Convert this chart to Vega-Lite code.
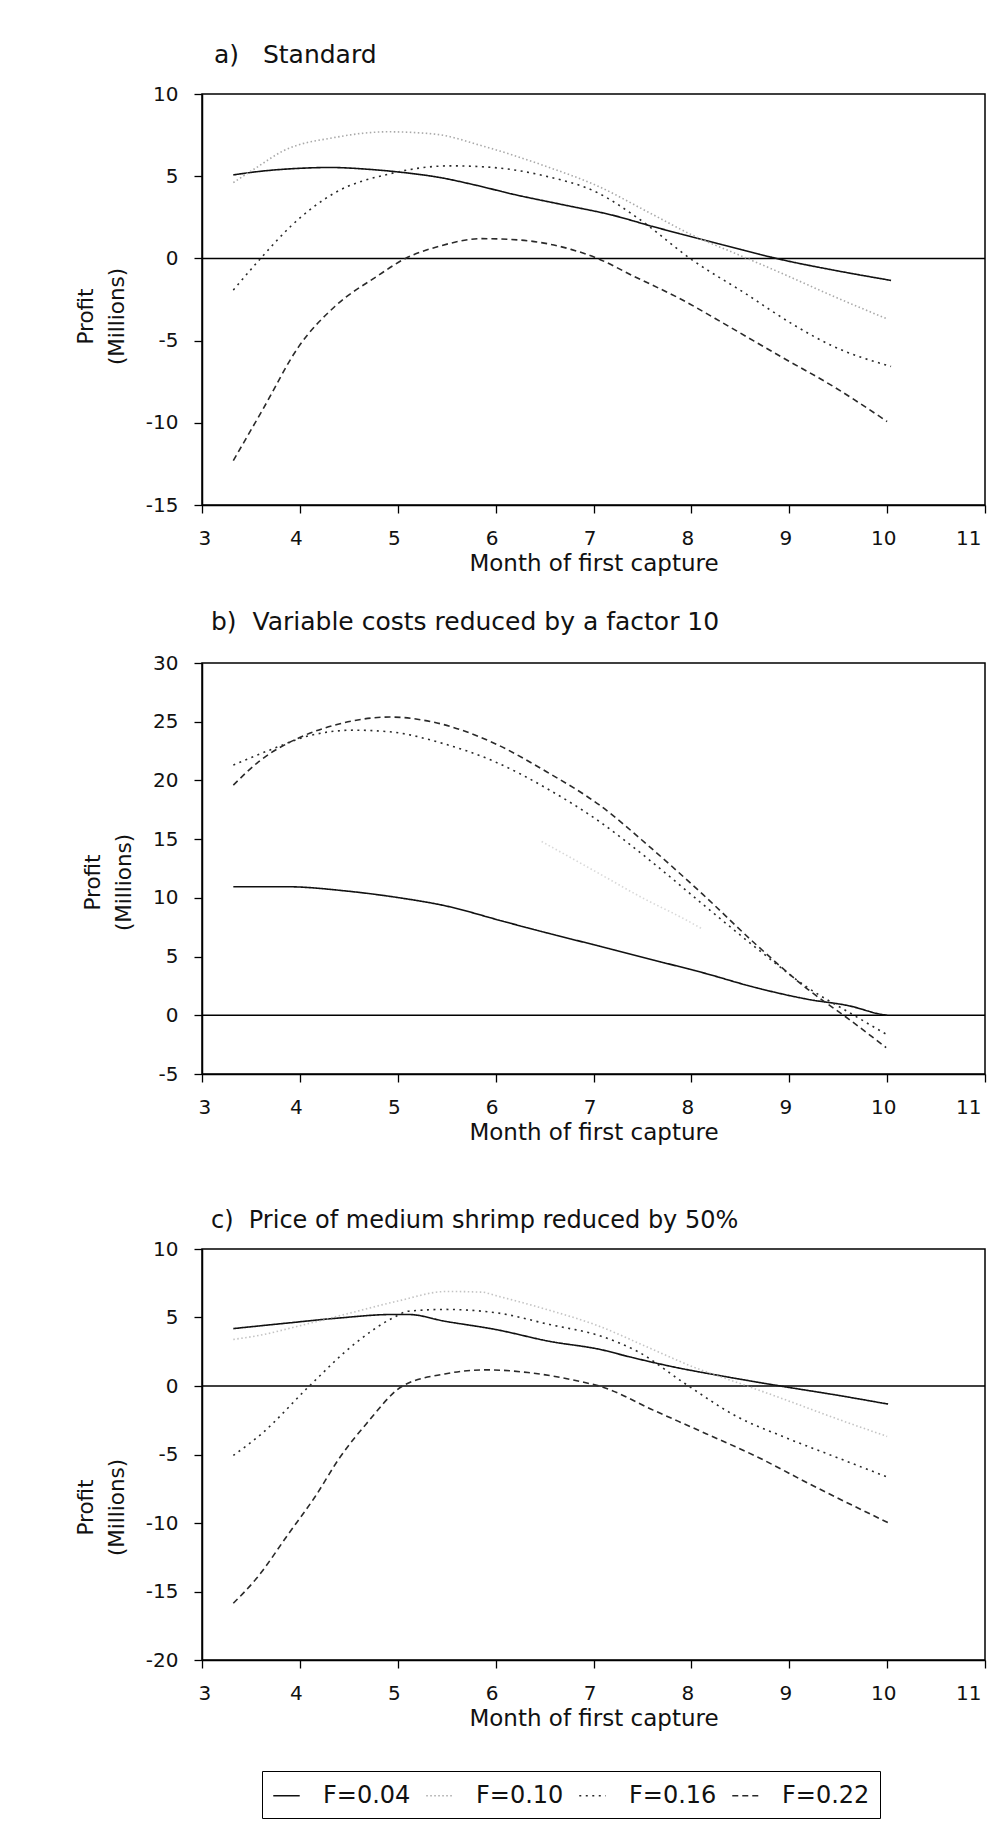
{
  "$schema": "https://vega.github.io/schema/vega-lite/v6.json",
  "padding": {"left": 74, "top": 42, "right": 5, "bottom": 5},
  "background": "white",
  "config": {
    "font": "DejaVu Sans",
    "view": {"stroke": "black", "strokeWidth": 1.5},
    "axis": {"domainColor": "black", "domainWidth": 1.5, "tickColor": "black", "tickWidth": 1.3, "tickSize": 8, "labelColor": "#111", "labelFontSize": 20, "labelFont": "DejaVu Sans", "titleFont": "DejaVu Sans", "titleFontWeight": "normal", "titleColor": "#111", "titleFontSize": 23, "grid": false},
    "axisX": {"labelPadding": 15, "titlePadding": 4, "labelOffset": -4},
    "axisY": {"labelPadding": 16, "titlePadding": 17, "titleFontSize": 21.5, "titleLineHeight": 31},
    "title": {"fontSize": 25, "fontWeight": "normal", "anchor": "start", "frame": "group", "color": "#111", "font": "DejaVu Sans"},
    "legend": {"orient": "none", "legendX": 60, "legendY": 1677, "direction": "horizontal", "strokeColor": "black", "padding": 10, "symbolType": "stroke", "symbolSize": 700, "symbolStrokeWidth": 1.6, "labelFontSize": 24, "labelColor": "#111", "labelOffset": 22, "columnPadding": 12, "columns": 4}
  },
  "data": {"values": [
    {"p":"a","F":"F=0.04","m":3.32,"v":5.08},{"p":"a","F":"F=0.04","m":3.6,"v":5.3},{"p":"a","F":"F=0.04","m":4.0,"v":5.48},{"p":"a","F":"F=0.04","m":4.31,"v":5.53},{"p":"a","F":"F=0.04","m":4.7,"v":5.42},{"p":"a","F":"F=0.04","m":5.0,"v":5.26},{"p":"a","F":"F=0.04","m":5.43,"v":4.92},{"p":"a","F":"F=0.04","m":5.8,"v":4.45},{"p":"a","F":"F=0.04","m":6.18,"v":3.9},{"p":"a","F":"F=0.04","m":6.7,"v":3.25},{"p":"a","F":"F=0.04","m":7.2,"v":2.62},{"p":"a","F":"F=0.04","m":7.6,"v":1.95},{"p":"a","F":"F=0.04","m":8.1,"v":1.16},{"p":"a","F":"F=0.04","m":8.5,"v":0.55},{"p":"a","F":"F=0.04","m":8.91,"v":-0.06},{"p":"a","F":"F=0.04","m":9.45,"v":-0.71},{"p":"a","F":"F=0.04","m":10.04,"v":-1.34},
    {"p":"a","F":"F=0.10","m":3.32,"v":4.61},{"p":"a","F":"F=0.10","m":3.55,"v":5.5},{"p":"a","F":"F=0.10","m":3.83,"v":6.54},{"p":"a","F":"F=0.10","m":4.36,"v":7.36},{"p":"a","F":"F=0.10","m":4.9,"v":7.7},{"p":"a","F":"F=0.10","m":5.38,"v":7.56},{"p":"a","F":"F=0.10","m":5.86,"v":6.85},{"p":"a","F":"F=0.10","m":6.5,"v":5.63},{"p":"a","F":"F=0.10","m":7.04,"v":4.41},{"p":"a","F":"F=0.10","m":7.57,"v":2.78},{"p":"a","F":"F=0.10","m":8.03,"v":1.36},{"p":"a","F":"F=0.10","m":8.43,"v":0.35},{"p":"a","F":"F=0.10","m":8.91,"v":-0.87},{"p":"a","F":"F=0.10","m":9.45,"v":-2.3},{"p":"a","F":"F=0.10","m":10.0,"v":-3.68},
    {"p":"a","F":"F=0.16","m":3.32,"v":-1.93},{"p":"a","F":"F=0.16","m":3.62,"v":0.14},{"p":"a","F":"F=0.16","m":3.91,"v":1.97},{"p":"a","F":"F=0.16","m":4.36,"v":4.0},{"p":"a","F":"F=0.16","m":4.9,"v":5.12},{"p":"a","F":"F=0.16","m":5.54,"v":5.63},{"p":"a","F":"F=0.16","m":5.97,"v":5.53},{"p":"a","F":"F=0.16","m":6.5,"v":5.02},{"p":"a","F":"F=0.16","m":7.04,"v":4.0},{"p":"a","F":"F=0.16","m":7.47,"v":2.38},{"p":"a","F":"F=0.16","m":8.0,"v":-0.06},{"p":"a","F":"F=0.16","m":8.54,"v":-2.09},{"p":"a","F":"F=0.16","m":9.07,"v":-4.13},{"p":"a","F":"F=0.16","m":9.45,"v":-5.35},{"p":"a","F":"F=0.16","m":10.04,"v":-6.57},
    {"p":"a","F":"F=0.22","m":3.32,"v":-12.3},{"p":"a","F":"F=0.22","m":3.62,"v":-9.2},{"p":"a","F":"F=0.22","m":3.99,"v":-5.35},{"p":"a","F":"F=0.22","m":4.36,"v":-2.91},{"p":"a","F":"F=0.22","m":4.79,"v":-1.08},{"p":"a","F":"F=0.22","m":5.06,"v":-0.06},{"p":"a","F":"F=0.22","m":5.43,"v":0.75},{"p":"a","F":"F=0.22","m":5.86,"v":1.2},{"p":"a","F":"F=0.22","m":6.24,"v":1.12},{"p":"a","F":"F=0.22","m":6.77,"v":0.55},{"p":"a","F":"F=0.22","m":7.04,"v":0.0},{"p":"a","F":"F=0.22","m":7.41,"v":-1.08},{"p":"a","F":"F=0.22","m":7.9,"v":-2.5},{"p":"a","F":"F=0.22","m":8.38,"v":-4.13},{"p":"a","F":"F=0.22","m":8.91,"v":-5.96},{"p":"a","F":"F=0.22","m":9.45,"v":-7.79},{"p":"a","F":"F=0.22","m":10.0,"v":-9.92},
    {"p":"b","F":"F=0.04","m":3.32,"v":10.95},{"p":"b","F":"F=0.04","m":3.85,"v":10.95},{"p":"b","F":"F=0.04","m":4.5,"v":10.56},{"p":"b","F":"F=0.04","m":5.03,"v":9.99},{"p":"b","F":"F=0.04","m":5.46,"v":9.37},{"p":"b","F":"F=0.04","m":6.1,"v":7.95},{"p":"b","F":"F=0.04","m":6.52,"v":7.02},{"p":"b","F":"F=0.04","m":7.06,"v":5.89},{"p":"b","F":"F=0.04","m":7.59,"v":4.75},{"p":"b","F":"F=0.04","m":8.12,"v":3.62},{"p":"b","F":"F=0.04","m":8.66,"v":2.35},{"p":"b","F":"F=0.04","m":9.19,"v":1.36},{"p":"b","F":"F=0.04","m":9.62,"v":0.79},{"p":"b","F":"F=0.04","m":9.94,"v":0.08},{"p":"b","F":"F=0.04","m":10.0,"v":0.0},
    {"p":"b","F":"F=0.10","m":6.47,"v":14.8},{"p":"b","F":"F=0.10","m":7.03,"v":12.2},{"p":"b","F":"F=0.10","m":7.5,"v":10.0},{"p":"b","F":"F=0.10","m":7.95,"v":8.1},{"p":"b","F":"F=0.10","m":8.1,"v":7.4},
    {"p":"b","F":"F=0.16","m":3.32,"v":21.31},{"p":"b","F":"F=0.16","m":3.69,"v":22.58},{"p":"b","F":"F=0.16","m":4.12,"v":23.86},{"p":"b","F":"F=0.16","m":4.55,"v":24.28},{"p":"b","F":"F=0.16","m":4.92,"v":24.14},{"p":"b","F":"F=0.16","m":5.46,"v":23.15},{"p":"b","F":"F=0.16","m":5.99,"v":21.6},{"p":"b","F":"F=0.16","m":6.52,"v":19.33},{"p":"b","F":"F=0.16","m":7.06,"v":16.5},{"p":"b","F":"F=0.16","m":7.59,"v":13.1},{"p":"b","F":"F=0.16","m":8.12,"v":9.43},{"p":"b","F":"F=0.16","m":8.66,"v":5.75},{"p":"b","F":"F=0.16","m":9.19,"v":2.35},{"p":"b","F":"F=0.16","m":9.62,"v":0.2},{"p":"b","F":"F=0.16","m":9.99,"v":-1.61},
    {"p":"b","F":"F=0.22","m":3.32,"v":19.6},{"p":"b","F":"F=0.22","m":3.58,"v":21.6},{"p":"b","F":"F=0.22","m":4.01,"v":23.7},{"p":"b","F":"F=0.22","m":4.38,"v":24.76},{"p":"b","F":"F=0.22","m":4.92,"v":25.4},{"p":"b","F":"F=0.22","m":5.35,"v":24.99},{"p":"b","F":"F=0.22","m":5.99,"v":23.15},{"p":"b","F":"F=0.22","m":6.52,"v":20.74},{"p":"b","F":"F=0.22","m":7.06,"v":17.91},{"p":"b","F":"F=0.22","m":7.59,"v":14.23},{"p":"b","F":"F=0.22","m":8.12,"v":10.27},{"p":"b","F":"F=0.22","m":8.66,"v":6.03},{"p":"b","F":"F=0.22","m":9.19,"v":2.21},{"p":"b","F":"F=0.22","m":9.62,"v":-0.4},{"p":"b","F":"F=0.22","m":9.99,"v":-2.75},
    {"p":"c","F":"F=0.04","m":3.32,"v":4.19},{"p":"c","F":"F=0.04","m":3.88,"v":4.6},{"p":"c","F":"F=0.04","m":4.41,"v":4.97},{"p":"c","F":"F=0.04","m":4.95,"v":5.22},{"p":"c","F":"F=0.04","m":5.11,"v":5.22},{"p":"c","F":"F=0.04","m":5.48,"v":4.73},{"p":"c","F":"F=0.04","m":6.01,"v":4.11},{"p":"c","F":"F=0.04","m":6.55,"v":3.26},{"p":"c","F":"F=0.04","m":7.08,"v":2.65},{"p":"c","F":"F=0.04","m":7.35,"v":2.16},{"p":"c","F":"F=0.04","m":7.88,"v":1.3},{"p":"c","F":"F=0.04","m":8.25,"v":0.81},{"p":"c","F":"F=0.04","m":8.95,"v":-0.05},{"p":"c","F":"F=0.04","m":9.48,"v":-0.66},{"p":"c","F":"F=0.04","m":10.01,"v":-1.32},
    {"p":"c","F":"F=0.10","m":3.32,"v":3.4},{"p":"c","F":"F=0.10","m":3.59,"v":3.7},{"p":"c","F":"F=0.10","m":4.0,"v":4.4},{"p":"c","F":"F=0.10","m":4.5,"v":5.3},{"p":"c","F":"F=0.10","m":5.0,"v":6.2},{"p":"c","F":"F=0.10","m":5.5,"v":6.9},{"p":"c","F":"F=0.10","m":5.86,"v":6.85},{"p":"c","F":"F=0.10","m":6.0,"v":6.6},{"p":"c","F":"F=0.10","m":6.5,"v":5.63},{"p":"c","F":"F=0.10","m":7.04,"v":4.41},{"p":"c","F":"F=0.10","m":7.57,"v":2.78},{"p":"c","F":"F=0.10","m":8.03,"v":1.36},{"p":"c","F":"F=0.10","m":8.43,"v":0.35},{"p":"c","F":"F=0.10","m":8.91,"v":-0.87},{"p":"c","F":"F=0.10","m":9.45,"v":-2.3},{"p":"c","F":"F=0.10","m":10.0,"v":-3.68},
    {"p":"c","F":"F=0.16","m":3.32,"v":-5.07},{"p":"c","F":"F=0.16","m":3.61,"v":-3.48},{"p":"c","F":"F=0.16","m":4.09,"v":-0.05},{"p":"c","F":"F=0.16","m":4.57,"v":3.14},{"p":"c","F":"F=0.16","m":4.95,"v":4.97},{"p":"c","F":"F=0.16","m":5.11,"v":5.46},{"p":"c","F":"F=0.16","m":5.48,"v":5.59},{"p":"c","F":"F=0.16","m":6.01,"v":5.34},{"p":"c","F":"F=0.16","m":6.55,"v":4.49},{"p":"c","F":"F=0.16","m":7.08,"v":3.63},{"p":"c","F":"F=0.16","m":7.45,"v":2.52},{"p":"c","F":"F=0.16","m":7.93,"v":0.2},{"p":"c","F":"F=0.16","m":8.47,"v":-2.25},{"p":"c","F":"F=0.16","m":8.95,"v":-3.73},{"p":"c","F":"F=0.16","m":9.48,"v":-5.2},{"p":"c","F":"F=0.16","m":10.01,"v":-6.67},
    {"p":"c","F":"F=0.22","m":3.32,"v":-15.86},{"p":"c","F":"F=0.22","m":3.56,"v":-14.02},{"p":"c","F":"F=0.22","m":3.88,"v":-10.83},{"p":"c","F":"F=0.22","m":4.15,"v":-8.14},{"p":"c","F":"F=0.22","m":4.41,"v":-5.2},{"p":"c","F":"F=0.22","m":4.68,"v":-2.75},{"p":"c","F":"F=0.22","m":5.05,"v":0.0},{"p":"c","F":"F=0.22","m":5.48,"v":0.88},{"p":"c","F":"F=0.22","m":5.91,"v":1.18},{"p":"c","F":"F=0.22","m":6.33,"v":0.98},{"p":"c","F":"F=0.22","m":6.87,"v":0.32},{"p":"c","F":"F=0.22","m":7.08,"v":-0.05},{"p":"c","F":"F=0.22","m":7.61,"v":-1.76},{"p":"c","F":"F=0.22","m":8.15,"v":-3.48},{"p":"c","F":"F=0.22","m":8.68,"v":-5.2},{"p":"c","F":"F=0.22","m":9.21,"v":-7.16},{"p":"c","F":"F=0.22","m":10.01,"v":-9.98}
  ]},
  "spacing": 63,
  "vconcat": [
    {
      "bounds": "flush",
      "spacing": 158,
      "vconcat": [
        {
          "title": {"text": "a)\u00a0\u00a0\u00a0Standard", "dx": 12, "offset": 16},
          "width": 783, "height": 411,
          "layer": [
            {"data": {"values": [{"v": 0}]}, "mark": {"type": "rule", "color": "black", "strokeWidth": 1.5}, "encoding": {"y": {"field": "v", "type": "quantitative", "scale": {"domain": [-15, 10], "nice": false, "zero": false}}}},
            {
              "transform": [{"filter": "datum.p == 'a'"}],
              "mark": {"type": "line", "interpolate": "monotone", "strokeWidth": 1.6},
              "encoding": {
                "x": {"field": "m", "type": "quantitative", "scale": {"domain": [3, 11], "nice": false, "zero": false}, "axis": {"values": [3,4,5,6,7,8,9,10,11], "title": "Month of first capture"}},
                "y": {"field": "v", "type": "quantitative", "scale": {"domain": [-15, 10], "nice": false, "zero": false}, "axis": {"values": [-15,-10,-5,0,5,10], "labelExpr": "'' + datum.value", "title": ["Profit", "(Millions)"], "titleY": 222}},
                "color": {"field": "F", "type": "nominal", "title": null, "scale": {"domain": ["F=0.04","F=0.10","F=0.16","F=0.22"], "range": ["#111111","#a9a9a9","#2a2a2a","#2a2a2a"]}},
                "strokeDash": {"field": "F", "type": "nominal", "title": null, "scale": {"domain": ["F=0.04","F=0.10","F=0.16","F=0.22"], "range": [[1,0],[1.5,2.5],[2,4.5],[6,4]]}}
              }
            }
          ]
        },
        {
          "title": {"text": "b)\u00a0\u00a0Variable costs reduced by a factor 10", "dx": 9, "offset": 18},
          "width": 783, "height": 411,
          "layer": [
            {"data": {"values": [{"v": 0}]}, "mark": {"type": "rule", "color": "black", "strokeWidth": 1.5}, "encoding": {"y": {"field": "v", "type": "quantitative", "scale": {"domain": [-5, 30], "nice": false, "zero": false}}}},
            {
              "transform": [{"filter": "datum.p == 'b'"}],
              "mark": {"type": "line", "interpolate": "monotone", "strokeWidth": 1.6},
              "encoding": {
                "x": {"field": "m", "type": "quantitative", "scale": {"domain": [3, 11], "nice": false, "zero": false}, "axis": {"values": [3,4,5,6,7,8,9,10,11], "title": "Month of first capture"}},
                "y": {"field": "v", "type": "quantitative", "scale": {"domain": [-5, 30], "nice": false, "zero": false}, "axis": {"values": [-5,0,5,10,15,20,25,30], "labelExpr": "'' + datum.value", "title": ["Profit", "(Millions)"], "titleY": 219}},
                "color": {"field": "F", "type": "nominal", "title": null, "scale": {"domain": ["F=0.04","F=0.10","F=0.16","F=0.22"], "range": ["#111111","#a9a9a9","#2a2a2a","#2a2a2a"]}},
                "strokeDash": {"field": "F", "type": "nominal", "title": null, "scale": {"domain": ["F=0.04","F=0.10","F=0.16","F=0.22"], "range": [[1,0],[1.5,2.5],[2,4.5],[6,4]]}},
                "opacity": {"condition": {"test": "datum.F == 'F=0.10'", "value": 0.45}, "value": 1}
              }
            }
          ]
        }
      ]
    },
    {
      "title": {"text": "c)\u00a0\u00a0Price of medium shrimp reduced by 50%", "dx": 9, "offset": 6, "fontSize": 24},
      "width": 783, "height": 411,
      "layer": [
        {"data": {"values": [{"v": 0}]}, "mark": {"type": "rule", "color": "black", "strokeWidth": 1.5}, "encoding": {"y": {"field": "v", "type": "quantitative", "scale": {"domain": [-20, 10], "nice": false, "zero": false}}}},
        {
          "transform": [{"filter": "datum.p == 'c'"}],
          "mark": {"type": "line", "interpolate": "monotone", "strokeWidth": 1.6},
          "encoding": {
            "x": {"field": "m", "type": "quantitative", "scale": {"domain": [3, 11], "nice": false, "zero": false}, "axis": {"values": [3,4,5,6,7,8,9,10,11], "title": "Month of first capture"}},
            "y": {"field": "v", "type": "quantitative", "scale": {"domain": [-20, 10], "nice": false, "zero": false}, "axis": {"values": [-20,-15,-10,-5,0,5,10], "labelExpr": "'' + datum.value", "title": ["Profit", "(Millions)"], "titleY": 258}},
            "color": {"field": "F", "type": "nominal", "title": null, "scale": {"domain": ["F=0.04","F=0.10","F=0.16","F=0.22"], "range": ["#111111","#a9a9a9","#2a2a2a","#2a2a2a"]}},
            "strokeDash": {"field": "F", "type": "nominal", "title": null, "scale": {"domain": ["F=0.04","F=0.10","F=0.16","F=0.22"], "range": [[1,0],[1.5,2.5],[2,4.5],[6,4]]}},
            "opacity": {"condition": {"test": "datum.F == 'F=0.10'", "value": 0.7}, "value": 1}
          }
        }
      ]
    }
  ]
}
